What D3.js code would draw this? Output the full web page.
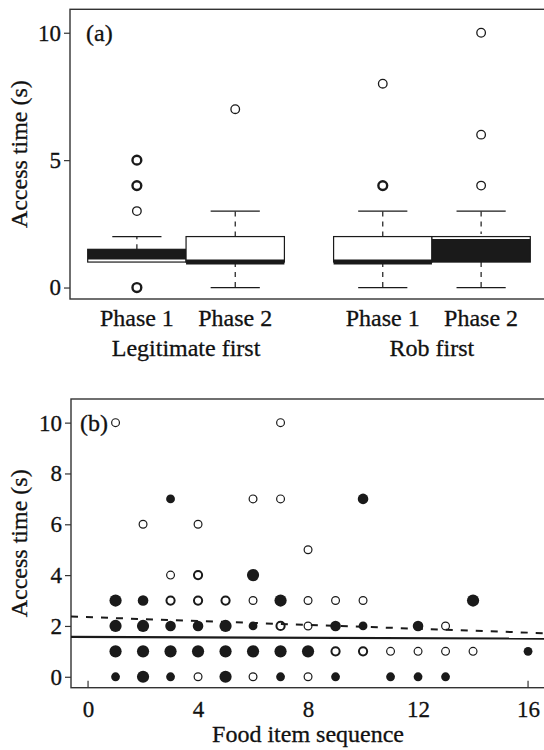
<!DOCTYPE html>
<html>
<head>
<meta charset="utf-8">
<script src="https://cdn.jsdelivr.net/npm/d3@7"></script>
<style>
  html, body { margin: 0; padding: 0; background: #fff; }
  svg text { font-family: 'Liberation Serif', 'Times New Roman', serif; fill: #111; stroke: #111; stroke-width: 0.3px; }
</style>
</head>
<body>
<div id="chart"></div>
<script>
// panel (a): box plots
const boxGroups = ['Legitimate first', 'Legitimate first', 'Rob first', 'Rob first'];
const boxPhases = ['Phase 1', 'Phase 2', 'Phase 1', 'Phase 2'];
const boxPos = [1, 2, 3.5, 4.5];
const boxQ1 = [1, 1, 1, 1];
const boxMedian = [1, 1, 1, 2];
const boxQ3 = [1.5, 2, 2, 2];
const boxWhiskLow = [1, 0, 0, 0];
const boxWhiskHigh = [2, 3, 3, 3];
const boxOutliers = [[0, 0, 3, 4, 4, 5, 5], [7], [4, 4, 8], [4, 6, 10]];
const boxFill = ['#1a1a1a', '#fff', '#fff', '#1a1a1a'];
const yTicksA = [0, 5, 10];

// panel (b): access time by food item sequence (n = overlapping points)
const seqFilled  = [1, 1, 1, 1, 2, 2, 2, 2, 3, 3, 3, 3, 4, 4, 5, 5, 5, 6, 6, 6, 7, 7, 7, 8, 9, 9, 10, 10, 11, 12, 12, 13, 14, 16];
const timeFilled = [3, 2, 1, 0, 3, 2, 1, 0, 7, 2, 1, 0, 2, 1, 2, 1, 0, 4, 2, 1, 3, 1, 0, 1, 2, 0, 7, 2, 0, 2, 0, 0, 3, 1];
const nFilled    = [3, 3, 3, 1, 2, 3, 3, 3, 1, 2, 3, 1, 2, 3, 3, 3, 3, 3, 1, 3, 3, 3, 1, 3, 2, 1, 2, 1, 1, 2, 1, 1, 3, 1];
const seqOpen  = [1, 2, 3, 3, 4, 4, 4, 4, 5, 6, 6, 6, 7, 7, 7, 8, 8, 8, 8, 9, 9, 10, 10, 11, 12, 13, 13, 14];
const timeOpen = [10, 6, 4, 3, 6, 4, 3, 0, 3, 7, 3, 0, 10, 7, 2, 5, 3, 2, 0, 3, 1, 3, 1, 1, 1, 2, 1, 1];
const nOpen    = [1, 1, 1, 2, 1, 2, 2, 1, 2, 1, 1, 1, 1, 1, 2, 1, 1, 1, 1, 1, 2, 1, 2, 1, 1, 1, 1, 1];
// fitted lines, end points
const fitX = [-0.62, 16.7];
const fitSolid = [1.57, 1.50];
const fitDashed = [2.37, 1.71];
const xTicksB = [0, 4, 8, 12, 16];
const yTicksB = [0, 2, 4, 6, 8, 10];

const W = 544, H = 750;
const ink = '#1a1a1a';
const fs = 23;      // tick labels
const fsLab = 24;   // words

const svg = d3.select('#chart').append('svg')
    .attr('width', W).attr('height', H)
    .attr('viewBox', [0, 0, W, H]);
svg.append('rect').attr('width', W).attr('height', H).attr('fill', '#fff');

function styleTicks(sel) {
    sel.select('.domain').remove();
    sel.selectAll('line').attr('stroke', '#333').attr('stroke-width', 1.2);
    sel.selectAll('text').attr('font-size', fs).attr('fill', '#111')
        .style('font-family', "'Liberation Serif', serif");
}

// ---------- panel (a) ----------
const xa = d3.scaleLinear().domain([0.32, 5.18]).range([70, 548]);
const ya = d3.scaleLinear().domain([-0.45, 10.92]).range([299, 9.3]);
const boxW = xa(2) - xa(1);
const capW = boxW / 2;

const ga = svg.append('g');

ga.append('rect')
    .attr('x', xa.range()[0]).attr('y', ya.range()[1])
    .attr('width', xa.range()[1] - xa.range()[0])
    .attr('height', ya.range()[0] - ya.range()[1])
    .attr('fill', 'none').attr('stroke', '#333').attr('stroke-width', 1.4);

ga.append('g')
    .attr('transform', `translate(${xa.range()[0]},0)`)
    .call(d3.axisLeft(ya).tickValues(yTicksA).tickSize(6).tickPadding(3))
    .call(styleTicks);

boxPos.forEach((p, i) => {
    const cx = xa(p);
    const x0 = cx - boxW / 2;
    const fill = boxFill[i];
    const medColor = fill === '#fff' ? ink : '#fff';

    // whiskers
    [[boxQ3[i], boxWhiskHigh[i]], [boxQ1[i], boxWhiskLow[i]]].forEach(([a, b]) => {
        if (a === b) return;
        ga.append('line')
            .attr('x1', cx).attr('x2', cx)
            .attr('y1', ya(a)).attr('y2', ya(b))
            .attr('stroke', ink).attr('stroke-width', 1.2)
            .attr('stroke-dasharray', '5,5');
    });
    [boxWhiskHigh[i], boxWhiskLow[i]].forEach((v, k) => {
        if ((k === 0 && v === boxQ3[i]) || (k === 1 && v === boxQ1[i])) return;
        ga.append('line')
            .attr('x1', cx - capW / 2).attr('x2', cx + capW / 2)
            .attr('y1', ya(v)).attr('y2', ya(v))
            .attr('stroke', ink).attr('stroke-width', 1.3);
    });

    // box
    ga.append('rect')
        .attr('x', x0).attr('y', ya(boxQ3[i]))
        .attr('width', boxW).attr('height', ya(boxQ1[i]) - ya(boxQ3[i]))
        .attr('fill', fill);
    ga.append('line')
        .attr('x1', x0).attr('x2', x0 + boxW)
        .attr('y1', ya(boxMedian[i])).attr('y2', ya(boxMedian[i]))
        .attr('stroke', medColor).attr('stroke-width', 5);
    ga.append('rect')
        .attr('x', x0).attr('y', ya(boxQ3[i]))
        .attr('width', boxW).attr('height', ya(boxQ1[i]) - ya(boxQ3[i]))
        .attr('fill', 'none').attr('stroke', ink).attr('stroke-width', 1.2);

    // outliers, thicker ring where values repeat
    const counts = d3.rollup(boxOutliers[i], v => v.length, d => d);
    ga.selectAll(null)
        .data(Array.from(counts))
        .join('circle')
        .attr('cx', cx).attr('cy', d => ya(d[0]))
        .attr('r', d => d[1] > 1 ? 4.4 : 4.3)
        .attr('fill', '#fff').attr('stroke', ink)
        .attr('stroke-width', d => d[1] > 1 ? 2.4 : 1.3);

    ga.append('text')
        .attr('x', cx).attr('y', 326)
        .attr('text-anchor', 'middle').attr('font-size', fsLab)
        .text(boxPhases[i]);
});

// group labels centred under each pair
d3.groups(boxPos.map((p, i) => ({ p, g: boxGroups[i] })), d => d.g).forEach(([g, items]) => {
    ga.append('text')
        .attr('x', xa(d3.mean(items, d => d.p))).attr('y', 356)
        .attr('text-anchor', 'middle').attr('font-size', fsLab)
        .text(g);
});

ga.append('text')
    .attr('transform', `translate(27,${(ya.range()[0] + ya.range()[1]) / 2}) rotate(-90)`)
    .attr('text-anchor', 'middle').attr('font-size', fsLab)
    .text('Access time (s)');

ga.append('text')
    .attr('x', 86).attr('y', ya(10)).attr('dy', '0.35em')
    .attr('font-size', fsLab).text('(a)');

// ---------- panel (b) ----------
const xb = d3.scaleLinear().domain([-0.62, 16.7]).range([71, 547.3]);
const yb = d3.scaleLinear().domain([-0.43, 10.93]).range([687.7, 399]);

const gb = svg.append('g');

gb.append('rect')
    .attr('x', xb.range()[0]).attr('y', yb.range()[1])
    .attr('width', xb.range()[1] - xb.range()[0])
    .attr('height', yb.range()[0] - yb.range()[1])
    .attr('fill', 'none').attr('stroke', '#333').attr('stroke-width', 1.4);

gb.append('g')
    .attr('transform', `translate(${xb.range()[0]},0)`)
    .call(d3.axisLeft(yb).tickValues(yTicksB).tickSize(6).tickPadding(3))
    .call(styleTicks);

gb.append('g')
    .attr('transform', `translate(0,${yb.range()[0]})`)
    .call(d3.axisBottom(xb).tickValues(xTicksB).tickSize(0).tickPadding(13))
    .call(styleTicks);

// only the end ticks show, pointing inwards
gb.selectAll(null)
    .data([xTicksB[0], xTicksB[xTicksB.length - 1]])
    .join('line')
    .attr('x1', d => xb(d)).attr('x2', d => xb(d))
    .attr('y1', yb.range()[0]).attr('y2', yb.range()[0] - 7)
    .attr('stroke', '#333').attr('stroke-width', 1.2);

const filled = seqFilled.map((s, i) => ({ s, t: timeFilled[i], n: nFilled[i] }));
const open = seqOpen.map((s, i) => ({ s, t: timeOpen[i], n: nOpen[i] }));

gb.append('g').selectAll('circle')
    .data(open)
    .join('circle')
    .attr('cx', d => xb(d.s)).attr('cy', d => yb(d.t))
    .attr('r', d => d.n > 1 ? 4.1 : 3.9)
    .attr('fill', '#fff').attr('stroke', ink)
    .attr('stroke-width', d => d.n > 1 ? 2.0 : 1.2);

gb.append('g').selectAll('circle')
    .data(filled)
    .join('circle')
    .attr('cx', d => xb(d.s)).attr('cy', d => yb(d.t))
    .attr('r', d => [0, 4.4, 5.3, 6.1][d.n])
    .attr('fill', ink);

const clip = gb.append('clipPath').attr('id', 'clipb');
clip.append('rect')
    .attr('x', xb.range()[0]).attr('y', yb.range()[1])
    .attr('width', xb.range()[1] - xb.range()[0])
    .attr('height', yb.range()[0] - yb.range()[1]);

const fitLine = d3.line().x(d => xb(d[0])).y(d => yb(d[1]));
gb.append('path')
    .attr('d', fitLine(fitX.map((x, i) => [x, fitSolid[i]])))
    .attr('clip-path', 'url(#clipb)')
    .attr('fill', 'none').attr('stroke', ink).attr('stroke-width', 2.2);
gb.append('path')
    .attr('d', fitLine(fitX.map((x, i) => [x, fitDashed[i]])))
    .attr('clip-path', 'url(#clipb)')
    .attr('fill', 'none').attr('stroke', ink).attr('stroke-width', 2)
    .attr('stroke-dasharray', '7,8');

gb.append('text')
    .attr('transform', `translate(27,${(yb.range()[0] + yb.range()[1]) / 2}) rotate(-90)`)
    .attr('text-anchor', 'middle').attr('font-size', fsLab)
    .text('Access time (s)');

gb.append('text')
    .attr('x', xb(8)).attr('y', 742)
    .attr('text-anchor', 'middle').attr('font-size', fsLab)
    .text('Food item sequence');

gb.append('text')
    .attr('x', 80).attr('y', yb(10)).attr('dy', '0.35em')
    .attr('font-size', fsLab).text('(b)');
</script>
</body>
</html>
